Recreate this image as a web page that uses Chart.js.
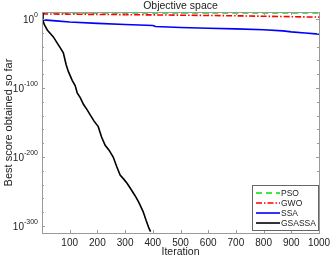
<!DOCTYPE html>
<html>
<head>
<meta charset="utf-8">
<script src="https://cdn.jsdelivr.net/npm/chart.js@4.4.0/dist/chart.umd.min.js"></script>
<style>
  html, body { margin: 0; padding: 0; background: #fff; }
</style>
</head>
<body>
<canvas id="chart" width="331" height="259"></canvas>
<script>
// values are log10(best score)
const psoIter = [1, 60, 300, 600, 1000];
const psoLog = [9.0, 8.8, 8.7, 8.7, 8.6];

const gwoIter = [1, 10, 100, 300, 500, 700, 900, 1000];
const gwoLog = [8.5, 7.2, 6.8, 6.2, 5.4, 4.5, 3.2, 2.6];

const ssaIter = [1, 3, 6, 50, 100, 200, 300, 400, 410, 500, 600, 700, 800, 870, 900, 950, 1000];
const ssaLog = [8.7, 0, -1.4, -2.8, -4.5, -6.5, -8.2, -9.5, -11, -12.5, -13.5, -14.5, -15.8, -17.3, -18.8, -20.5, -22];

const gsIter = [1, 3, 8, 19, 30, 41, 55, 66, 77, 87, 95, 109, 120, 127, 138, 150, 162, 174, 188, 203, 215, 228, 242, 257, 270, 282, 295, 307, 320, 336, 350, 365, 376, 386, 392];
const gsLog = [8.7, -1, -8, -16, -21, -26, -35, -42, -49, -66, -76, -89, -97, -107, -114, -124, -131, -139, -148, -156, -171, -183, -190, -200, -214, -226, -232, -238, -246, -256, -266, -279, -292, -303, -308];

const xTicks = [100, 200, 300, 400, 500, 600, 700, 800, 900, 1000];
const yTicks = [-300, -200, -100, 0];
const yMinor = [-280, -260, -240, -220, -180, -160, -140, -120, -80, -60, -40, -20];

const FONT = "'Liberation Sans', Arial, sans-serif";
const AXIS = '#9a9a9a';
const TEXT = '#222';

function pts(xs, ys) {
    return xs.map((x, i) => ({ x: x, y: ys[i] }));
}

// box, inward ticks, title, y labels as 10^n, legend
const decor = {
    id: 'decor',
    afterDraw(chart) {
        const ctx = chart.ctx;
        const a = chart.chartArea;
        const xs = chart.scales.x, ys = chart.scales.y;
        ctx.save();
        ctx.strokeStyle = AXIS;
        ctx.lineWidth = 1;
        ctx.strokeRect(Math.round(a.left) + 0.5, Math.round(a.top) + 0.5,
            Math.round(a.right - a.left), Math.round(a.bottom - a.top));

        ctx.beginPath();
        xTicks.forEach(v => {
            const px = Math.round(xs.getPixelForValue(v)) + 0.5;
            ctx.moveTo(px, a.bottom); ctx.lineTo(px, a.bottom - 3);
            ctx.moveTo(px, a.top); ctx.lineTo(px, a.top + 3);
        });
        yTicks.concat(yMinor).forEach(v => {
            const py = Math.round(ys.getPixelForValue(v)) + 0.5;
            const len = yTicks.includes(v) ? 3 : 2;
            ctx.moveTo(a.left, py); ctx.lineTo(a.left + len, py);
            ctx.moveTo(a.right, py); ctx.lineTo(a.right - len, py);
        });
        ctx.stroke();

        // title over the plot
        ctx.fillStyle = TEXT;
        ctx.font = '10.5px ' + FONT;
        ctx.textAlign = 'center';
        ctx.textBaseline = 'middle';
        ctx.fillText('Objective space', (a.left + a.right) / 2, 6.5);

        // y tick labels
        yTicks.forEach(v => {
            const py = ys.getPixelForValue(v);
            const exp = String(v);
            ctx.font = '7px ' + FONT;
            const ew = ctx.measureText(exp).width;
            ctx.textAlign = 'right';
            ctx.fillText(exp, a.left - 4, py - 4);
            ctx.font = '10px ' + FONT;
            ctx.fillText('10', a.left - 4 - ew, py + 1);
        });

        // legend
        const lx = 252, ly = 185, lw = 66, lh = 45;
        ctx.fillStyle = '#fff';
        ctx.fillRect(lx, ly, lw, lh);
        ctx.strokeStyle = '#666';
        ctx.strokeRect(lx + 0.5, ly + 0.5, lw, lh);
        ctx.font = '8.5px ' + FONT;
        ctx.textAlign = 'left';
        chart.data.datasets.forEach((ds, i) => {
            const yy = ly + 8 + i * 10;
            ctx.beginPath();
            ctx.setLineDash(ds.borderDash || []);
            ctx.strokeStyle = ds.borderColor;
            ctx.lineWidth = ds.borderWidth;
            ctx.moveTo(lx + 4, yy); ctx.lineTo(lx + 28, yy);
            ctx.stroke();
            ctx.setLineDash([]);
            ctx.fillStyle = TEXT;
            ctx.fillText(ds.label, lx + 29, yy + 0.5);
        });
        ctx.restore();
    }
};

new Chart(document.getElementById('chart'), {
    type: 'line',
    data: {
        datasets: [
            { label: 'PSO', data: pts(psoIter, psoLog), borderColor: '#00e000', borderDash: [6, 4], borderWidth: 1.6, order: 4 },
            { label: 'GWO', data: pts(gwoIter, gwoLog), borderColor: '#ff0000', borderDash: [6, 2, 1.5, 2], borderWidth: 1.6, order: 3 },
            { label: 'SSA', data: pts(ssaIter, ssaLog), borderColor: '#0000ff', borderWidth: 1.6, order: 2 },
            { label: 'GSASSA', data: pts(gsIter, gsLog), borderColor: '#000000', borderWidth: 1.6, order: 1 }
        ]
    },
    options: {
        responsive: false,
        animation: false,
        layout: { padding: { top: 12, right: 12, left: 0, bottom: 0 } },
        elements: { point: { radius: 0 }, line: { tension: 0, fill: false } },
        plugins: {
            legend: { display: false },
            tooltip: { enabled: false },
            title: { display: false }
        },
        scales: {
            x: {
                type: 'linear',
                min: 0, max: 1000,
                grid: { display: false, drawTicks: false },
                border: { display: false },
                afterBuildTicks: s => { s.ticks = xTicks.map(v => ({ value: v })); },
                afterFit: s => { s.height = 26; s.paddingRight = 0; s.paddingLeft = 0; },
                ticks: { color: TEXT, font: { family: FONT, size: 10 }, padding: 4, maxRotation: 0, autoSkip: false, callback: v => String(v) },
                title: { display: true, text: 'Iteration', color: TEXT, font: { family: FONT, size: 10.5 }, padding: { top: 0, bottom: 1 } }
            },
            y: {
                type: 'linear',
                min: -310, max: 10,
                grid: { display: false, drawTicks: false },
                border: { display: false },
                afterBuildTicks: s => { s.ticks = yTicks.map(v => ({ value: v })); },
                afterFit: s => { s.width = 42; },
                ticks: { display: false },
                title: { display: true, text: 'Best score obtained so far', color: TEXT, font: { family: FONT, size: 11 }, padding: { top: 2, bottom: 0 } }
            }
        }
    },
    plugins: [decor]
});
</script>
</body>
</html>
